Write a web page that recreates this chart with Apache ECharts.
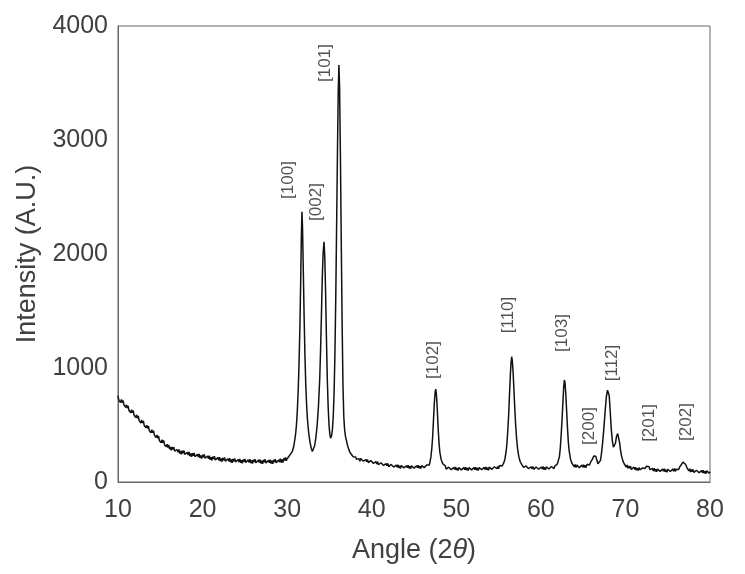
<!DOCTYPE html>
<html>
<head>
<meta charset="utf-8">
<script src="https://cdn.jsdelivr.net/npm/echarts@6/dist/echarts.min.js"></script>
<style>html,body{margin:0;padding:0;background:#fff}#c{width:745px;height:574px}</style>
</head>
<body>
<div id="c"></div>
<script>
// Background region, low angles (2θ, counts)
const scanLow = [[10.0,758],[10.1,716],[10.2,733],[10.3,698],[10.4,724],[10.5,696],[10.6,715],[10.7,676],[10.8,684],[10.9,654],[11.0,677],[11.1,648],[11.2,668],[11.3,627],[11.4,644],[11.5,608],[11.6,635],[11.7,608],[11.8,627],[11.9,587],[12.0,596],[12.1,566],[12.2,589],[12.3,559],[12.4,579],[12.5,538],[12.6,554],[12.7,518],[12.8,544],[12.9,517],[13.0,535],[13.1,496],[13.2,505],[13.3,476],[13.4,499],[13.5,470],[13.6,491],[13.7,450],[13.8,467],[13.9,432],[14.0,459],[14.1,432],[14.2,450],[14.3,411],[14.4,419],[14.5,390],[14.6,412],[14.7,383],[14.8,403],[14.9,362],[15.0,378],[15.1,344],[15.2,371],[15.3,345],[15.4,365],[15.5,327],[15.6,336],[15.7,308],[15.8,332],[15.9,303],[16.0,325],[16.1,288],[16.2,308],[16.3,277],[16.4,307],[16.5,284],[16.6,306],[16.7,271],[16.8,283],[16.9,258],[17.0,284],[17.1,260],[17.2,286],[17.3,250],[17.4,272],[17.5,242],[17.6,274],[17.7,252],[17.8,276],[17.9,242],[18.0,256],[18.1,232],[18.2,261],[18.3,237],[18.4,263],[18.5,228],[18.6,250],[18.7,220],[18.8,252],[18.9,231],[19.0,255],[19.1,222],[19.2,237],[19.3,214],[19.4,243],[19.5,220],[19.6,246],[19.7,211],[19.8,234],[19.9,205],[20.0,238],[20.1,217],[20.2,241],[20.3,208],[20.4,222],[20.5,199],[20.6,228],[20.7,204],[20.8,231],[20.9,195],[21.0,218],[21.1,189],[21.2,222],[21.3,201],[21.4,226],[21.5,193],[21.6,208],[21.7,185],[21.8,214],[21.9,191],[22.0,218],[22.1,183],[22.2,206],[22.3,178],[22.4,211],[22.5,190],[22.6,215],[22.7,182],[22.8,198],[22.9,175],[23.0,204],[23.1,181],[23.2,209],[23.3,174],[23.4,198],[23.5,169],[23.6,202],[23.7,182],[23.8,207],[23.9,175],[24.0,190],[24.1,168],[24.2,197],[24.3,175],[24.4,203],[24.5,169],[24.6,192],[24.7,164],[24.8,198],[24.9,177],[25.0,203],[25.1,171],[25.2,187],[25.3,164],[25.4,194],[25.5,172],[25.6,200],[25.7,166],[25.8,189],[25.9,161],[26.0,195],[26.1,175],[26.2,201],[26.3,168],[26.4,184],[26.5,162],[26.6,192],[26.7,170],[26.8,197],[26.9,163],[27.0,187],[27.1,159],[27.2,193],[27.3,173],[27.4,199],[27.5,167],[27.6,182],[27.7,160],[27.8,190],[27.9,168],[28.0,196],[28.1,162],[28.2,187],[28.3,159],[28.4,194],[28.5,174],[28.6,200],[28.7,169],[28.8,185],[28.9,164],[29.0,194],[29.1,174],[29.2,204],[29.3,171],[29.4,197],[29.5,171],[29.6,207],[29.7,189],[29.8,216],[29.9,186],[30.0,204],[30.1,198],[30.2,224],[30.3,232]];
// [100], [002], [101] peaks
const scanMain = [[30.4,245],[30.6,266],[30.8,318],[31.0,420],[31.1,500],[31.2,620],[31.3,790],[31.4,1020],[31.5,1330],[31.6,1750],[31.68,2150],[31.75,2370],[31.82,2230],[31.9,1900],[32.0,1480],[32.1,1120],[32.2,860],[32.3,680],[32.4,550],[32.55,430],[32.7,350],[32.85,296],[32.98,268],[33.1,280],[33.25,318],[33.4,390],[33.55,500],[33.7,660],[33.85,900],[33.95,1150],[34.05,1450],[34.15,1780],[34.25,2000],[34.36,2108],[34.45,1980],[34.55,1650],[34.65,1250],[34.75,900],[34.85,660],[34.95,500],[35.05,415],[35.14,385],[35.25,405],[35.35,460],[35.45,570],[35.55,780],[35.65,1120],[35.75,1620],[35.85,2250],[35.95,2900],[36.04,3420],[36.12,3658],[36.2,3470],[36.3,2850],[36.4,2100],[36.5,1400],[36.6,850],[36.7,570],[36.8,455],[36.9,400],[37.0,368],[37.15,318],[37.3,284],[37.45,256],[37.6,244],[37.8,222],[37.9,230],[38.0,208],[38.1,220],[38.2,200]];
// Mid-angle region with [102], [110]
const scanMid = [[38.3,216],[38.4,188],[38.5,205],[38.6,181],[38.7,206],[38.8,191],[38.9,209],[39.0,182],[39.1,192],[39.2,175],[39.3,197],[39.4,178],[39.5,198],[39.6,170],[39.7,187],[39.8,163],[39.9,188],[40.0,172],[40.1,190],[40.2,163],[40.3,173],[40.4,156],[40.5,178],[40.6,158],[40.7,179],[40.8,151],[40.9,168],[41.0,144],[41.1,169],[41.2,153],[41.3,172],[41.4,145],[41.5,156],[41.6,138],[41.7,161],[41.8,142],[41.9,162],[42.0,135],[42.1,152],[42.2,129],[42.3,154],[42.4,139],[42.5,158],[42.6,131],[42.7,142],[42.8,125],[42.9,148],[43.0,129],[43.1,151],[43.2,124],[43.3,142],[43.4,119],[43.5,145],[43.6,131],[43.7,150],[43.8,124],[43.9,135],[44.0,119],[44.1,143],[44.2,125],[44.3,147],[44.4,121],[44.5,139],[44.6,116],[44.7,142],[44.8,128],[44.9,148],[45.0,122],[45.1,134],[45.2,118],[45.3,143],[45.4,125],[45.5,147],[45.6,121],[45.7,139],[45.8,118],[45.9,144],[46.0,130],[46.1,151],[46.2,126],[46.3,139],[46.4,124],[46.5,149],[46.6,132],[46.7,160],[46.8,149],[46.9,178],[47.0,220],[47.1,290],[47.2,390],[47.3,540],[47.4,690],[47.5,790],[47.57,815],[47.65,770],[47.75,640],[47.85,480],[47.95,350],[48.05,265],[48.2,200],[48.4,160],[48.55,150],[48.7,142],[48.8,113],[48.9,129],[49.0,105],[49.1,130],[49.2,115],[49.3,134],[49.4,108],[49.5,120],[49.6,103],[49.7,127],[49.8,109],[49.9,131],[50.0,105],[50.1,123],[50.2,100],[50.3,126],[50.4,112],[50.5,132],[50.6,106],[50.7,118],[50.8,102],[50.9,126],[51.0,108],[51.1,130],[51.2,104],[51.3,122],[51.4,100],[51.5,126],[51.6,112],[51.7,132],[51.8,106],[51.9,118],[52.0,102],[52.1,126],[52.2,108],[52.3,130],[52.4,104],[52.5,122],[52.6,100],[52.7,127],[52.8,113],[52.9,133],[53.0,107],[53.1,119],[53.2,103],[53.3,128],[53.4,110],[53.5,132],[53.6,106],[53.7,125],[53.8,103],[53.9,130],[54.0,116],[54.1,137],[54.2,111],[54.3,124],[54.4,109],[54.5,134],[54.6,117],[54.7,140],[54.8,116],[54.9,136],[55.0,116],[55.1,144],[55.2,133],[55.3,153],[55.4,140],[55.5,155],[55.6,165],[55.75,200],[55.9,270],[56.0,350],[56.1,460],[56.2,600],[56.3,780],[56.4,950],[56.48,1050],[56.55,1099],[56.63,1060],[56.72,960],[56.82,800],[56.92,640],[57.02,500],[57.12,390],[57.25,290],[57.4,220],[57.55,180],[57.65,168],[57.75,152]];
// High-angle region with [103], [200], [112], [201], [202]
const scanHigh = [[57.85,157],[57.95,128],[58.05,142],[58.15,117],[58.25,141],[58.35,125],[58.45,144],[58.55,117],[58.65,128],[58.75,111],[58.85,134],[58.95,116],[59.05,137],[59.15,111],[59.25,128],[59.35,106],[59.45,132],[59.55,118],[59.65,138],[59.75,112],[59.85,124],[59.95,108],[60.05,132],[60.15,114],[60.25,136],[60.35,110],[60.45,128],[60.55,106],[60.65,133],[60.75,119],[60.85,139],[60.95,114],[61.05,126],[61.15,111],[61.25,136],[61.35,119],[61.45,142],[61.55,118],[61.65,139],[61.75,127],[61.85,153],[61.95,158],[62.05,175],[62.2,225],[62.3,300],[62.4,410],[62.5,540],[62.6,690],[62.7,830],[62.78,895],[62.86,870],[62.95,770],[63.05,620],[63.15,470],[63.25,350],[63.35,270],[63.5,205],[63.65,168],[63.8,156],[63.95,132],[64.05,154],[64.15,126],[64.25,149],[64.35,132],[64.45,152],[64.55,126],[64.65,142],[64.75,124],[64.85,150],[64.95,130],[65.05,152],[65.15,127],[65.25,146],[65.35,127],[65.45,155],[65.55,140],[65.65,160],[65.75,150],[65.85,169],[65.95,175],[66.1,200],[66.25,228],[66.38,240],[66.5,225],[66.62,190],[66.75,160],[66.85,150],[66.95,158],[67.05,190],[67.15,240],[67.3,340],[67.45,470],[67.6,620],[67.75,750],[67.88,805],[67.98,808],[68.08,760],[68.2,620],[68.32,470],[68.45,360],[68.58,305],[68.7,300],[68.82,340],[68.95,400],[69.08,425],[69.18,410],[69.3,350],[69.42,280],[69.55,225],[69.7,185],[69.85,160],[70.0,148],[70.1,130],[70.2,150],[70.3,120],[70.4,140],[70.5,120],[70.6,138],[70.7,110],[70.8,125],[70.9,106],[71.0,130],[71.1,109],[71.2,130],[71.3,103],[71.4,121],[71.5,100],[71.6,126],[71.7,107],[71.8,123],[71.9,102],[72.0,122],[72.1,107],[72.2,124],[72.3,118],[72.4,134],[72.5,138],[72.6,150],[72.7,136],[72.8,134],[72.9,108],[73.0,120],[73.1,94],[73.2,119],[73.3,96],[73.4,120],[73.5,93],[73.6,111],[73.7,89],[73.8,114],[73.9,100],[74.0,120],[74.1,93],[74.2,105],[74.3,89],[74.4,113],[74.5,94],[74.6,116],[74.7,90],[74.8,108],[74.9,86],[75.0,112],[75.1,98],[75.2,118],[75.3,92],[75.4,104],[75.5,88],[75.6,113],[75.7,95],[75.8,118],[75.9,93],[76.0,112],[76.1,96],[76.2,121],[76.3,109],[76.4,130],[76.5,128],[76.6,151],[76.7,154],[76.8,174],[76.9,173],[77.0,176],[77.1,156],[77.2,150],[77.3,122],[77.4,124],[77.5,98],[77.6,116],[77.7,87],[77.8,109],[77.9,89],[78.0,110],[78.1,83],[78.2,100],[78.3,77],[78.4,103],[78.5,88],[78.6,108],[78.7,81],[78.8,93],[78.9,76],[79.0,100],[79.1,82],[79.2,103],[79.3,77],[79.4,95],[79.5,72],[79.6,98],[79.7,84],[79.8,102],[79.9,78],[80.0,90]];

// Reflection annotations
const peakLabels = ['[100]','[002]','[101]','[102]','[110]','[103]','[200]','[112]','[201]','[202]'];
const labelAngles = [30.1, 33.4, 34.48, 47.25, 56.12, 62.5, 65.7, 68.4, 72.8, 77.15];
const labelLevels = [2649, 2456, 3675, 1070, 1465, 1307, 491, 1044, 518, 526];

// Axis ticks
const xTicks = {min: 10, max: 80, step: 10};
const yTicks = {min: 0, max: 4000, step: 1000};

const scan = scanLow.concat(scanMain, scanMid, scanHigh);
const labelData = peakLabels.map((t, i) => ({value: [labelAngles[i], labelLevels[i]], name: t}));

const FONT = '"Liberation Sans", Arial, Helvetica, sans-serif';
const chart = echarts.init(document.getElementById('c'), null, {renderer: 'canvas'});
chart.setOption({
  animation: false,
  backgroundColor: '#fff',
  textStyle: {fontFamily: FONT},
  grid: {left: 118, right: 35, top: 26, bottom: 92, show: true, borderColor: '#666', borderWidth: 1, backgroundColor: 'transparent'},
  xAxis: {
    type: 'value', min: xTicks.min, max: xTicks.max, interval: xTicks.step,
    name: 'Angle (2{it|θ})', nameLocation: 'middle', nameGap: 55,
    nameTextStyle: {fontSize: 27, color: '#404040', fontFamily: FONT,
      rich: {it: {fontStyle: 'italic', fontSize: 27, color: '#404040', fontFamily: FONT}}},
    axisLine: {show: true, lineStyle: {color: '#666', width: 1}},
    axisTick: {show: false},
    splitLine: {show: false},
    axisLabel: {fontSize: 25, color: '#404040', margin: 16, fontFamily: FONT, formatter: v => String(v)}
  },
  yAxis: {
    type: 'value', min: yTicks.min, max: yTicks.max, interval: yTicks.step,
    name: 'Intensity (A.U.)', nameLocation: 'middle', nameGap: 60,
    nameTextStyle: {fontSize: 27, color: '#404040', fontFamily: FONT},
    axisLine: {show: true, lineStyle: {color: '#666', width: 1}},
    axisTick: {show: false},
    splitLine: {show: false},
    axisLabel: {fontSize: 25, color: '#404040', margin: 10, fontFamily: FONT, formatter: v => String(v)}
  },
  series: [
    {
      type: 'line', data: scan, showSymbol: false, symbol: 'none',
      lineStyle: {color: '#111', width: 1.5}, z: 3
    },
    {
      type: 'scatter', data: labelData, symbolSize: 0, silent: true, z: 4,
      label: {show: true, position: 'inside', rotate: 90, formatter: p => p.name,
        fontSize: 17, color: '#262626', fontFamily: FONT, align: 'center', verticalAlign: 'middle'}
    }
  ]
});
</script>
</body>
</html>
